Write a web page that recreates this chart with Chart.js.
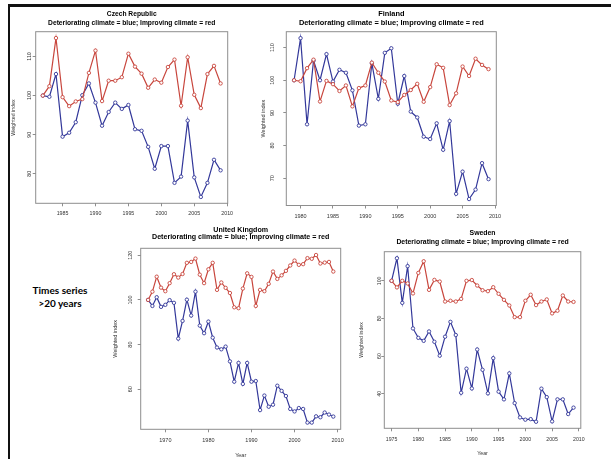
<!DOCTYPE html>
<html><head><meta charset="utf-8">
<script src="https://cdn.jsdelivr.net/npm/chart.js@4.4.1/dist/chart.umd.min.js"></script>
<style>
html,body{margin:0;padding:0;background:#fff;}
body{width:611px;height:459px;position:relative;overflow:hidden;}
canvas{position:absolute;left:0;top:0;}
#frame{position:absolute;left:8px;top:4px;width:700px;height:500px;border-top:3px solid #111;border-left:2px solid #111;}
#note{position:absolute;left:20px;width:80px;top:284px;text-align:center;font:bold 10px Lato, "Liberation Sans", sans-serif;line-height:13.3px;color:#000;}
</style></head><body>
<div id="frame"></div>
<div id="note">Times series<br>&gt;20 years</div>
<canvas id="cz" width="611" height="459"></canvas>
<canvas id="fi" width="611" height="459"></canvas>
<canvas id="uk" width="611" height="459"></canvas>
<canvas id="se" width="611" height="459"></canvas>
<script>
// ---------- DATA ----------
const subtitle = 'Deteriorating climate = blue; Improving climate = red';
const yAxisTitle = 'Weighted index';
const xAxisTitle = 'Year';

const czechYears = [1982,1983,1984,1985,1986,1987,1988,1989,1990,1991,1992,1993,1994,1995,1996,1997,1998,1999,2000,2001,2002,2003,2004,2005,2006,2007,2008,2009];
const czechImproving = [100,102.4,114.7,99.6,97.3,98.5,99.1,105.8,111.5,98.6,103.8,103.8,104.7,110.7,107.4,105.6,102.0,104.1,103.3,107.3,109.2,97.4,109.8,100.2,96.8,105.5,107.6,103.1];
const czechDeteriorating = [100,99.7,105.5,89.5,90.5,93.2,100.1,103.1,98.2,92.3,95.8,98.2,96.6,97.6,91.4,91.0,86.9,81.3,87.1,87.1,77.7,79.3,93.6,79.1,74.1,77.7,83.6,80.9];
const czechXTicks = [1985,1990,1995,2000,2005,2010];
const czechYTicks = [80,90,100,110];

const finlandYears = [1979,1980,1981,1982,1983,1984,1985,1986,1987,1988,1989,1990,1991,1992,1993,1994,1995,1996,1997,1998,1999,2000,2001,2002,2003,2004,2005,2006,2007,2008,2009];
const finlandImproving = [100,99.7,103.7,106.3,93.5,99.8,98.8,96.7,98.4,92.0,97.6,98.4,105.4,102.3,99.6,93.8,93.3,95.5,97.0,98.9,93.4,97.9,104.9,103.8,92.4,96.0,104.2,101.3,106.6,104.7,103.4];
const finlandDeteriorating = [100,112.9,86.5,106.0,100,108.0,99.6,103.2,102.3,96.9,86.1,86.5,105.2,94.3,108.4,109.8,92.8,101.3,90.4,88.6,82.7,82.0,86.8,78.7,87.5,65.2,72.0,63.6,66.5,74.6,69.7];
const finlandXTicks = [1980,1985,1990,1995,2000,2005,2010];
const finlandYTicks = [70,80,90,100,110];

const ukYears = [1966,1967,1968,1969,1970,1971,1972,1973,1974,1975,1976,1977,1978,1979,1980,1981,1982,1983,1984,1985,1986,1987,1988,1989,1990,1991,1992,1993,1994,1995,1996,1997,1998,1999,2000,2001,2002,2003,2004,2005,2006,2007,2008,2009];
const ukImproving = [100,103.7,110.4,105.5,103.9,107.5,111.5,110.0,111.6,116.6,117.0,118.5,111.3,107.5,113.7,116.6,104.5,107.8,105.4,103.1,96.7,96.3,105.1,111.9,110.3,97.3,104.5,103.9,107.2,112.7,109.4,111.0,113.0,115.4,117.6,115.7,116.0,118.7,118.4,120.1,116.3,116.7,117.0,112.7];
const ukDeteriorating = [100,97.3,101.2,96.9,97.8,99.9,98.7,82.7,90.6,100.1,93.0,103.7,88.5,85.1,90.3,83.1,78.7,77.9,79.1,72.5,63.4,71.8,62.4,71.8,63.4,63.7,50.7,57.2,52.2,53.1,61.6,59.3,57.0,51.2,50.1,51.6,51.2,45.1,45.1,47.9,47.5,49.6,48.7,47.8];
const ukXTicks = [1970,1980,1990,2000,2010];
const ukYTicks = [60,80,100,120];

const swedenYears = [1975,1976,1977,1978,1979,1980,1981,1982,1983,1984,1985,1986,1987,1988,1989,1990,1991,1992,1993,1994,1995,1996,1997,1998,1999,2000,2001,2002,2003,2004,2005,2006,2007,2008,2009];
const swedenImproving = [100,96.5,100,98.6,93.3,104.2,110.4,95.2,100.5,99.6,89.0,89.4,89.0,90.4,100,100.4,97.5,95.0,94.5,96.6,93.1,89.9,86.9,80.7,80.7,89.4,92.6,87.1,89.0,90.1,82.7,84.1,92.2,89.0,88.8];
const swedenDeteriorating = [100,112.0,88.3,107.8,74.7,69.7,68.1,73.1,67.6,60.2,70.3,78.2,71.2,40.5,53.3,42.8,63.5,52.7,40.2,58.9,41.1,37.0,50.8,35.0,27.4,26.2,26.5,25.1,42.7,38.2,25.3,37.0,37.0,29.2,32.6];
const swedenXTicks = [1975,1980,1985,1990,1995,2000,2005,2010];
const swedenYTicks = [40,60,80,100];

// ---------- STYLE / LAYOUT ----------
const RED = '#c8463d';
const BLUE = '#33389a';
const BOX = '#8e8e8e';
const TICKTXT = '#333';
const FONT = '"Liberation Sans", Arial, Helvetica, sans-serif';
Chart.defaults.font.family = FONT;

function rRange(vals) { // R style 4% axis extension
  const mn = Math.min(...vals), mx = Math.max(...vals), d = (mx - mn) * 0.04;
  return [mn - d, mx + d];
}

const decor = {
  id: 'decor',
  beforeDatasetsDraw(chart, args, o) {
    const a = chart.chartArea, ctx = chart.ctx;
    ctx.save();
    ctx.strokeStyle = BOX; ctx.lineWidth = 1;
    ctx.strokeRect(a.left, a.top, a.right - a.left, a.bottom - a.top);
    ctx.restore();
  },
  afterDraw(chart, args, o) {
    const a = chart.chartArea, ctx = chart.ctx;
    const cx = (a.left + a.right) / 2, cy = (a.top + a.bottom) / 2;
    ctx.save();
    ctx.textAlign = 'center'; ctx.textBaseline = 'middle';
    ctx.fillStyle = '#000';
    ctx.font = 'bold ' + o.titleSize + 'px ' + FONT;
    ctx.fillText(o.title, cx, a.top - o.t1);
    ctx.fillText(subtitle, cx, a.top - o.t2);
    ctx.fillStyle = TICKTXT;
    ctx.font = o.tickSize + 'px ' + FONT;
    const ys = chart.scales.y;
    ys.ticks.forEach(t => {
      const py = ys.getPixelForValue(t.value);
      ctx.save(); ctx.translate(a.left - o.yl, py); ctx.rotate(-Math.PI / 2);
      ctx.fillText(String(t.value), 0, 0); ctx.restore();
    });
    ctx.save(); ctx.translate(a.left - o.yt, cy); ctx.rotate(-Math.PI / 2);
    ctx.fillText(yAxisTitle, 0, 0); ctx.restore();
    if (o.xt) ctx.fillText(xAxisTitle, cx, a.bottom + o.xt);
    ctx.restore();
  }
};

function panel(id, title, years, improving, deteriorating, xTicks, yTicks, box, txt) {
  const pts = v => years.map((yr, i) => ({x: yr, y: v[i]}));
  const xr = rRange(years);
  const yr = rRange(improving.concat(deteriorating));
  const ds = (label, vals, col) => ({
    label, data: pts(vals), borderColor: col, borderWidth: 1.2,
    pointRadius: 1.7, pointBorderWidth: 0.9, pointBorderColor: col,
    pointBackgroundColor: '#fff', tension: 0, fill: false
  });
  const tickLen = 3;
  new Chart(document.getElementById(id), {
    type: 'line',
    data: { datasets: [ ds('Improving climate', improving, RED), ds('Deteriorating climate', deteriorating, BLUE) ] },
    options: {
      responsive: false, animation: false, events: [],
      layout: { padding: { left: 0, top: box.t, right: 611 - box.r, bottom: 0 } },
      plugins: {
        legend: { display: false }, tooltip: { enabled: false }, title: { display: false },
        decor: txt
      },
      scales: {
        x: {
          type: 'linear', min: xr[0], max: xr[1],
          afterBuildTicks: s => { s.ticks = xTicks.map(v => ({value: v})); },
          afterFit: s => { s.height = 459 - box.b; },
          grid: { display: true, drawOnChartArea: false, drawTicks: true, tickLength: tickLen, color: BOX, lineWidth: 1 },
          border: { display: false },
          ticks: { autoSkip: false, maxRotation: 0, minRotation: 0, color: TICKTXT,
            font: { size: txt.tickSize, family: FONT },
            padding: txt.xl - tickLen - 0.6 * txt.tickSize,
            callback: v => String(v) }
        },
        y: {
          type: 'linear', min: yr[0], max: yr[1],
          afterBuildTicks: s => { s.ticks = yTicks.map(v => ({value: v})); },
          afterFit: s => { s.width = box.l; },
          grid: { display: true, drawOnChartArea: false, drawTicks: true, tickLength: tickLen, color: BOX, lineWidth: 1 },
          border: { display: false },
          ticks: { display: false }
        }
      }
    },
    plugins: [decor]
  });
}

panel('cz', 'Czech Republic', czechYears, czechImproving, czechDeteriorating, czechXTicks, czechYTicks,
  {l: 35.7, t: 31.7, r: 227.7, b: 203.3},
  {title: 'Czech Republic', titleSize: 6.7, t1: 17.4, t2: 9, tickSize: 5.3, yl: 6.2, yt: 21.7, xl: 10, xt: 0});
panel('fi', 'Finland', finlandYears, finlandImproving, finlandDeteriorating, finlandXTicks, finlandYTicks,
  {l: 286.3, t: 31.7, r: 496.3, b: 205.5},
  {title: 'Finland', titleSize: 7.4, t1: 17.4, t2: 9, tickSize: 5.5, yl: 13.5, yt: 23, xl: 11, xt: 0});
panel('uk', 'United Kingdom', ukYears, ukImproving, ukDeteriorating, ukXTicks, ukYTicks,
  {l: 140.7, t: 248.3, r: 340.7, b: 429.3},
  {title: 'United Kingdom', titleSize: 7.1, t1: 18.3, t2: 11, tickSize: 5.5, yl: 10, yt: 25.7, xl: 11.4, xt: 25.7});
panel('se', 'Sweden', swedenYears, swedenImproving, swedenDeteriorating, swedenXTicks, swedenYTicks,
  {l: 384.3, t: 251.7, r: 580.8, b: 428.3},
  {title: 'Sweden', titleSize: 6.9, t1: 18.4, t2: 10, tickSize: 5.2, yl: 5, yt: 22.6, xl: 11.7, xt: 25});
</script>
</body></html>
